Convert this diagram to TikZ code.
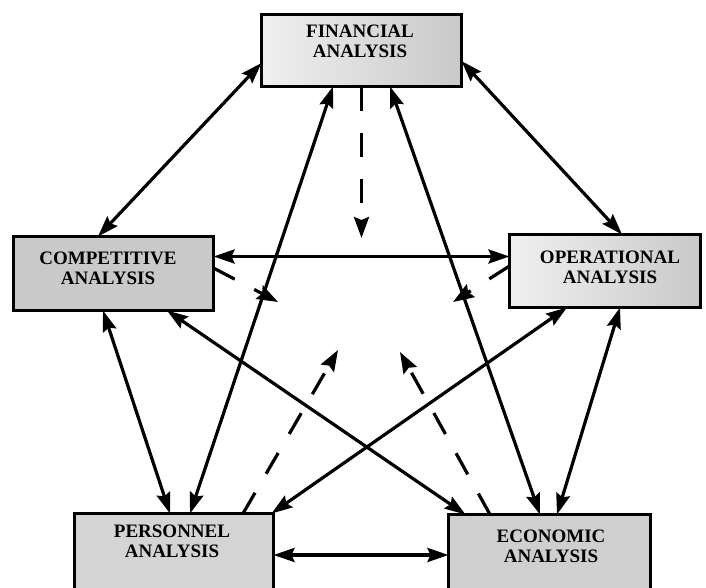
\documentclass[tikz,border=0pt]{standalone}
\usepackage{fontspec}
\setmainfont{Liberation Serif}
\usetikzlibrary{arrows.meta}

\begin{document}
\begin{tikzpicture}[x=1pt, y=-1pt,
	box/.style={draw, line width=3.5pt, inner sep=0pt, outer sep=0pt, fill=gray!42},
	boxfade/.style={draw, line width=3.5pt, inner sep=0pt, outer sep=0pt,
		left color=gray!12, right color=gray!42},
	caption/.style={align=center, inner sep=0pt,
		font=\bfseries\fontsize{19}{20}\selectfont},
	link/.style={line width=3.2pt,
		{Stealth[length=21pt,width=14pt,inset=3pt]}-{Stealth[length=21pt,width=14pt,inset=3pt]}},
	hint/.style={line width=3.2pt, dash pattern=on 24pt off 22pt,
		-{Stealth[length=21pt,width=15pt,inset=3pt]}}]
	\useasboundingbox (0,0) rectangle (706,587);
	% boxes
	\node[boxfade, minimum width=200pt, minimum height=72pt] (fin) at (361.5,50.5) {};
	\node[box, minimum width=200pt, minimum height=74pt] (comp) at (113.5,273.5) {};
	\node[boxfade, minimum width=191pt, minimum height=73pt] (op) at (605,271) {};
	\node[box, fill=gray!34, minimum width=199pt, minimum height=87pt] (pers) at (174,557) {};
	\node[box, fill=gray!38, minimum width=202pt, minimum height=86pt] (econ) at (549.5,557.5) {};
	\node[caption] (fin-t) at (360,41) {FINANCIAL\\ANALYSIS};
	\node[caption] (comp-t) at (108,268) {COMPETITIVE\\ANALYSIS};
	\node[caption] (op-t) at (610,267) {OPERATIONAL\\ANALYSIS};
	\node[caption] (pers-t) at (172,541) {PERSONNEL\\ANALYSIS};
	\node[caption] (econ-t) at (551,546) {ECONOMIC\\ANALYSIS};
	% two-way links
	\draw[link] ([yshift=-12.5pt]fin.west) to ([xshift=-15.5pt]comp.north);
	\draw[link] ([yshift=-10.5pt]fin.east) to ([xshift=17pt]op.north);
	\draw[link] ([xshift=-28.5pt]fin.south) to ([xshift=16pt]pers.north);
	\draw[link] ([xshift=28.5pt]fin.south) to ([xshift=-9.5pt]econ.north);
	\draw[link] ([yshift=17pt]comp.east) to ([yshift=14.5pt]op.west);
	\draw[link] ([xshift=-10.5pt]comp.south) to ([xshift=-4pt]pers.north);
	\draw[link] ([xshift=53.5pt]comp.south) to ([xshift=-84pt]econ.north);
	\draw[link] ([xshift=-38pt]op.south) to ([xshift=-2pt]pers.north east);
	\draw[link] ([xshift=15pt]op.south) to ([xshift=7.5pt]econ.north);
	\draw[link] ([yshift=2pt]pers.east) to ([yshift=2.5pt]econ.west);
	% dashed hints to the middle
	\coordinate (mid-f) at (361.5,238);
	\coordinate (mid-c) at (278,302);
	\coordinate (mid-o) at (453,302);
	\coordinate (mid-p) at (338,350);
	\coordinate (mid-e) at (400,352);
	\draw[hint] (fin.south) to (mid-f);
	\draw[hint] ([yshift=5.5pt]comp.east) to (mid-c);
	\draw[hint] ([yshift=5pt]op.west) to (mid-o);
	\draw[hint] ([xshift=69pt]pers.north) to (mid-p);
	\draw[hint] ([xshift=-59.5pt]econ.north) to (mid-e);
\end{tikzpicture}
\end{document}
